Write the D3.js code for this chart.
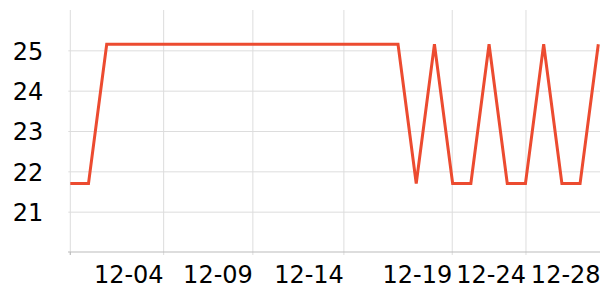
<!DOCTYPE html>
<html>
<head>
<meta charset="utf-8">
<script src="https://cdn.jsdelivr.net/npm/d3@7"></script>
<style>
  body { margin: 0; background: #fff; }
  svg { display: block; font-family: "DejaVu Sans", sans-serif; }
</style>
</head>
<body>
<div id="paper"></div>
<script>
// one value per day, 12-01 .. 12-30
var days = ['12-01','12-02','12-03','12-04','12-05','12-06','12-07','12-08','12-09','12-10',
  '12-11','12-12','12-13','12-14','12-15','12-16','12-17','12-18','12-19','12-20',
  '12-21','12-22','12-23','12-24','12-25','12-26','12-27','12-28','12-29','12-30']
var values = [21.7, 21.7, 25.15, 25.15, 25.15, 25.15, 25.15, 25.15, 25.15, 25.15,
  25.15, 25.15, 25.15, 25.15, 25.15, 25.15, 25.15, 25.15, 25.15, 21.7,
  25.15, 21.7, 21.7, 25.15, 21.7, 21.7, 25.15, 21.7, 21.7, 25.15]

// x ticks sit at these day offsets, labels drawn to the left of each tick
var x_ticks = [5.1, 10, 15, 20.95, 25, 29.1]
var x_labels = ['12-04', '12-09', '12-14', '12-19', '12-24', '12-28']
var y_ticks = [21, 22, 23, 24, 25]

var width = 600, height = 300

var x = d3.scaleLinear().domain([0, days.length - 1]).range([70.3, 598.3])
var y = d3.scaleLinear().domain([20, 26]).range([252, 10])

var svg = d3.select('#paper')
  .append('svg')
  .attr('width', width)
  .attr('height', height)

// horizontal grid + y labels
var yaxis = svg.append('g')
  .attr('transform', 'translate(70.3,0)')
  .call(d3.axisLeft(y).tickValues(y_ticks).tickFormat(d3.format('d')).tickSize(2).tickPadding(25))
yaxis.select('.domain').remove()
yaxis.selectAll('line').attr('x2', width).attr('x1', -2).attr('stroke', '#ddd')
yaxis.selectAll('text')
  .attr('font-size', 24)
  .attr('font-family', 'DejaVu Sans, sans-serif')
  .attr('fill', '#000')
  .attr('dy', '0.37em')

// vertical grid + x labels
var xaxis = svg.append('g')
  .attr('transform', 'translate(0,252)')
  .call(d3.axisBottom(x).tickValues(x_ticks).tickFormat(function(d, i) { return x_labels[i] }))
xaxis.select('.domain').remove()
xaxis.selectAll('line')
  .attr('y1', y(26) - 252)
  .attr('y2', 3)
  .attr('stroke', '#ddd')
xaxis.selectAll('text')
  .attr('font-size', 24)
  .attr('font-family', 'DejaVu Sans, sans-serif')
  .attr('fill', '#000')
  .attr('text-anchor', 'end')
  .attr('x', 0)
  .attr('dy', 0)
  .attr('y', 31)

// left and bottom axis lines
svg.append('line')
  .attr('x1', x(0)).attr('x2', x(0))
  .attr('y1', y(26)).attr('y2', 255)
  .attr('stroke', '#ddd')
svg.append('line')
  .attr('x1', 68).attr('x2', width)
  .attr('y1', y(20)).attr('y2', y(20))
  .attr('stroke', '#bbb')
svg.append('line')
  .attr('x1', x(0)).attr('x2', x(0))
  .attr('y1', y(20)).attr('y2', 255)
  .attr('stroke', '#bbb')

var line = d3.line()
  .x(function(d, i) { return x(i) })
  .y(function(d) { return y(d) })

svg.append('path')
  .datum(values)
  .attr('d', line)
  .attr('fill', 'none')
  .attr('stroke', '#ec4b30')
  .attr('stroke-width', 3)
</script>
</body>
</html>
